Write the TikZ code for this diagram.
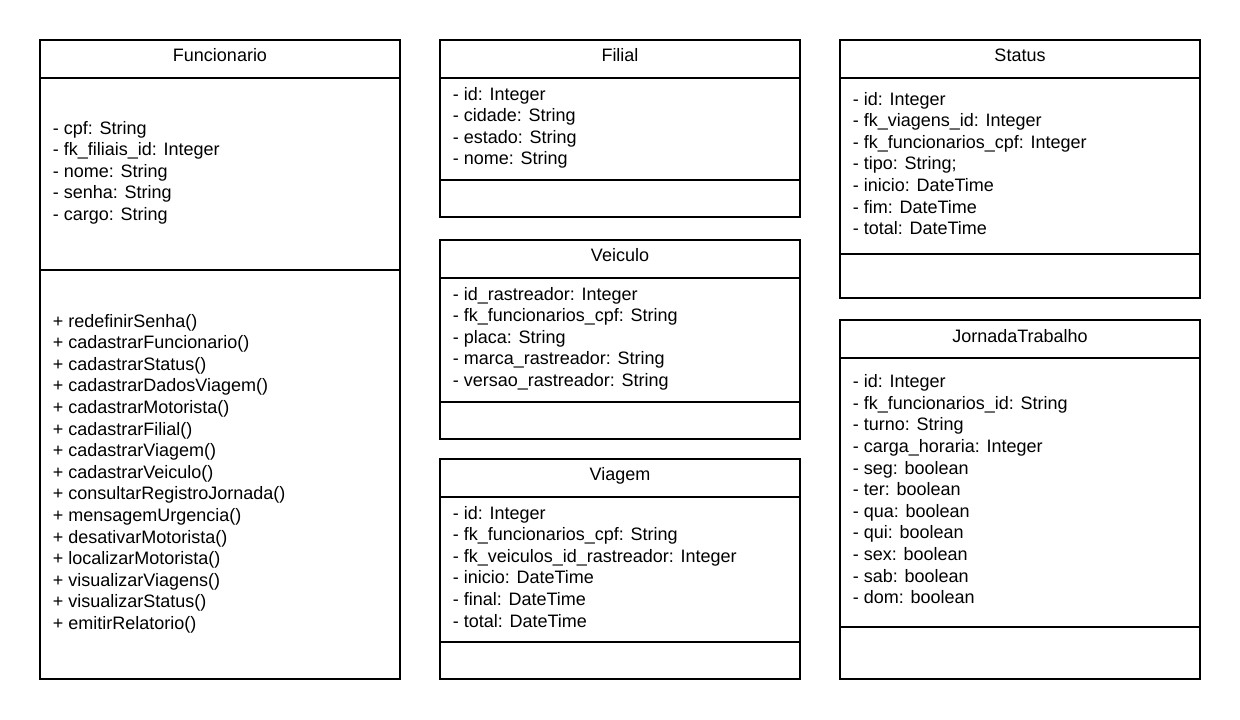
\documentclass[tikz,border=0pt]{standalone}
\usepackage{fontspec}
\setmainfont{Liberation Sans}
\begin{document}
\begin{tikzpicture}[x=1pt,y=-1pt,
  comp/.style={draw, line width=2pt, minimum width=360pt, inner sep=0pt, outer sep=0pt, anchor=north west},
  ttl/.style={anchor=base, inner sep=0pt, font=\fontsize{18}{21.6}\selectfont},
  txt/.style={anchor=base west, inner sep=0pt, font=\fontsize{18}{21.6}\selectfont}]
\useasboundingbox (0,0) rectangle (1240,720);

% ---------- Funcionario ----------
\node[comp, minimum height=38pt] (funT) at (40,40) {};
\node[comp, minimum height=192pt] (funA) at (40,78) {};
\node[comp, minimum height=409pt] (funM) at (40,270) {};
\node[ttl] (funN) at (220,61.7) {Funcionario};
\foreach \t [count=\i from 0] in {- cpf: String, - fk\_filiais\_id: Integer, - nome: String, - senha: String, - cargo: String}
  \node[txt] (funa\i) at (52.7,{134+21.6*\i}) {\t};
\foreach \t [count=\i from 0] in {+ redefinirSenha(), + cadastrarFuncionario(), + cadastrarStatus(), + cadastrarDadosViagem(), + cadastrarMotorista(), + cadastrarFilial(), + cadastrarViagem(), + cadastrarVeiculo(), + consultarRegistroJornada(), + mensagemUrgencia(), + desativarMotorista(), + localizarMotorista(), + visualizarViagens(), + visualizarStatus(), + emitirRelatorio()}
  \node[txt] (funm\i) at (52.7,{327+21.6*\i}) {\t};

% ---------- Filial ----------
\node[comp, minimum height=38pt] (filT) at (440,40) {};
\node[comp, minimum height=102pt] (filA) at (440,78) {};
\node[comp, minimum height=37pt] (filM) at (440,180) {};
\node[ttl] (filN) at (620,61.7) {Filial};
\foreach \t [count=\i from 0] in {- id: Integer, - cidade: String, - estado: String, - nome: String}
  \node[txt] (fila\i) at (452.7,{100+21.6*\i}) {\t};

% ---------- Veiculo ----------
\node[comp, minimum height=38pt] (veiT) at (440,240) {};
\node[comp, minimum height=124pt] (veiA) at (440,278) {};
\node[comp, minimum height=37pt] (veiM) at (440,402) {};
\node[ttl] (veiN) at (620,261.7) {Veiculo};
\foreach \t [count=\i from 0] in {- id\_rastreador: Integer, - fk\_funcionarios\_cpf: String, - placa: String, - marca\_rastreador: String, - versao\_rastreador: String}
  \node[txt] (veia\i) at (452.7,{300+21.6*\i}) {\t};

% ---------- Viagem ----------
\node[comp, minimum height=38pt] (viaT) at (440,459) {};
\node[comp, minimum height=145pt] (viaA) at (440,497) {};
\node[comp, minimum height=37pt] (viaM) at (440,642) {};
\node[ttl] (viaN) at (620,480.7) {Viagem};
\foreach \t [count=\i from 0] in {- id: Integer, - fk\_funcionarios\_cpf: String, - fk\_veiculos\_id\_rastreador: Integer, - inicio: DateTime, - final: DateTime, - total: DateTime}
  \node[txt] (viaa\i) at (452.7,{519+21.6*\i}) {\t};

% ---------- Status ----------
\node[comp, minimum height=38pt] (staT) at (840,40) {};
\node[comp, minimum height=176pt] (staA) at (840,78) {};
\node[comp, minimum height=44pt] (staM) at (840,254) {};
\node[ttl] (staN) at (1020,61.7) {Status};
\foreach \t [count=\i from 0] in {- id: Integer, - fk\_viagens\_id: Integer, - fk\_funcionarios\_cpf: Integer, - tipo: String;, - inicio: DateTime, - fim: DateTime, - total: DateTime}
  \node[txt] (staa\i) at (852.7,{105+21.6*\i}) {\t};

% ---------- JornadaTrabalho ----------
\node[comp, minimum height=38pt] (jorT) at (840,320) {};
\node[comp, minimum height=269pt] (jorA) at (840,358) {};
\node[comp, minimum height=52pt] (jorM) at (840,627) {};
\node[ttl] (jorN) at (1020,342.3) {JornadaTrabalho};
\foreach \t [count=\i from 0] in {- id: Integer, - fk\_funcionarios\_id: String, - turno: String, - carga\_horaria: Integer, - seg: boolean, - ter: boolean, - qua: boolean, - qui: boolean, - sex: boolean, - sab: boolean, - dom: boolean}
  \node[txt] (jora\i) at (852.7,{387.7+21.6*\i}) {\t};
\end{tikzpicture}
\end{document}
